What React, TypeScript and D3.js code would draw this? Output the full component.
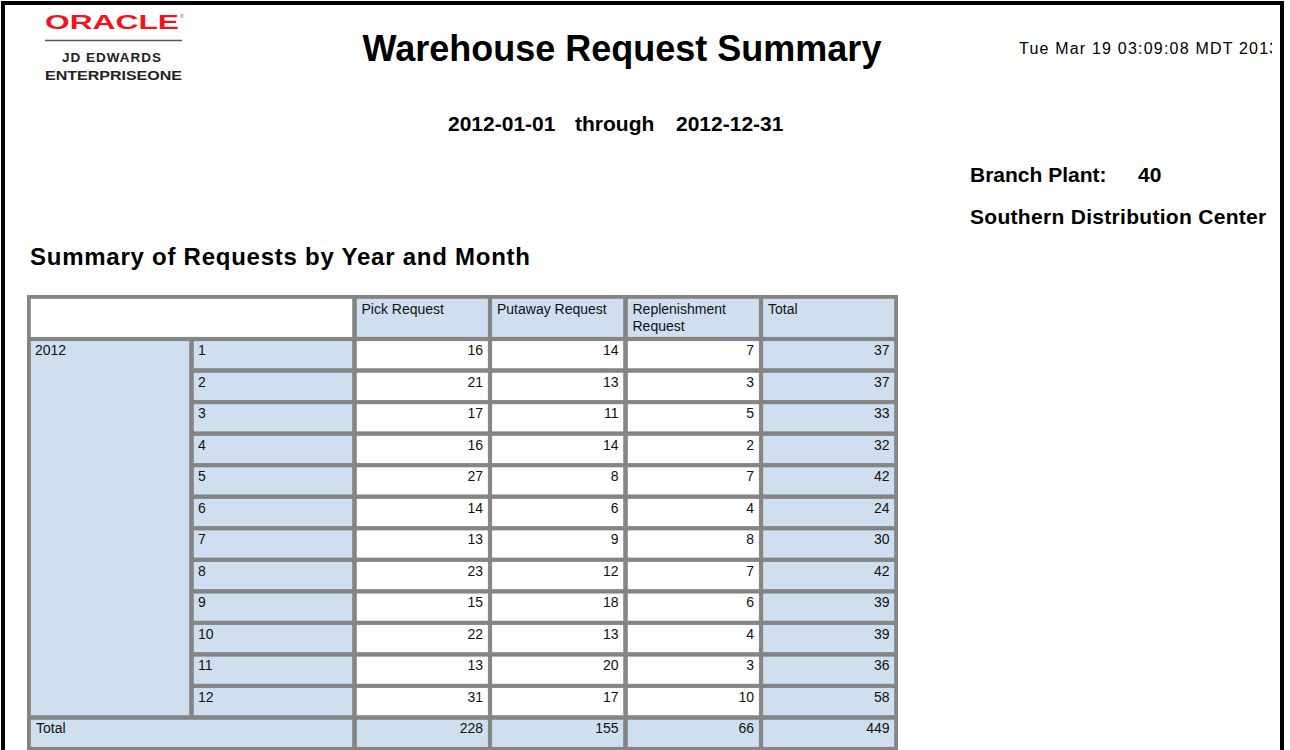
import React from "react";
import * as d3 from "d3";

const months = ["1", "2", "3", "4", "5", "6", "7", "8", "9", "10", "11", "12"];
const yearLabel = "2012";
const seriesNames = ["Pick Request", "Putaway Request", "Replenishment Request", "Total"];
const pickValues = [16, 21, 17, 16, 27, 14, 13, 23, 15, 22, 13, 31];
const putawayValues = [14, 13, 11, 14, 8, 6, 9, 12, 18, 13, 20, 17];
const replenishmentValues = [7, 3, 5, 2, 7, 4, 8, 7, 6, 4, 3, 10];
const totalValues = [37, 37, 33, 32, 42, 24, 30, 42, 39, 39, 36, 58];
const columnTotals = [228, 155, 66, 449];

const FONT = "'Liberation Sans', Arial, Helvetica, sans-serif";
const BLUE = "#cfdfef";
const GRID = "#858585";

export default function App() {
  const rowKeys = [...months, "Total"];
  const y = d3.scaleBand<string>().domain(rowKeys).range([339, 749]).paddingInner(0);
  const headerTop = 296.5;
  const xLabel = d3.scaleBand<string>().domain(["year", "month"]).range([28.5, 354.5]);
  const xData = d3.scaleBand<string>().domain(seriesNames).range([354.5, 896.5]);
  const seriesValues = [pickValues, putawayValues, replenishmentValues, totalValues];
  const inset = 1.8;

  const cells: { x: number; y: number; w: number; h: number; fill: string }[] = [];
  cells.push({ x: xLabel("year")!, y: headerTop, w: xLabel.bandwidth() * 2, h: y("1")! - headerTop, fill: "#fff" });
  seriesNames.forEach((s) =>
    cells.push({ x: xData(s)!, y: headerTop, w: xData.bandwidth(), h: y("1")! - headerTop, fill: BLUE })
  );
  cells.push({ x: xLabel("year")!, y: y("1")!, w: xLabel.bandwidth(), h: y.bandwidth() * months.length, fill: BLUE });
  months.forEach((m) => {
    cells.push({ x: xLabel("month")!, y: y(m)!, w: xLabel.bandwidth(), h: y.bandwidth(), fill: BLUE });
    seriesNames.forEach((s, i) =>
      cells.push({ x: xData(s)!, y: y(m)!, w: xData.bandwidth(), h: y.bandwidth(), fill: i === 3 ? BLUE : "#fff" })
    );
  });
  cells.push({ x: xLabel("year")!, y: y("Total")!, w: xLabel.bandwidth() * 2, h: y.bandwidth(), fill: BLUE });
  seriesNames.forEach((s) =>
    cells.push({ x: xData(s)!, y: y("Total")!, w: xData.bandwidth(), h: y.bandwidth(), fill: BLUE })
  );

  const tableLeft = xLabel.range()[0];
  const tableRight = xData.range()[1];
  const tableBottom = y.range()[1];

  return (
    <svg
      width={1290}
      height={750}
      style={{ position: "absolute", left: 0, top: 0, display: "block", background: "#fff" }}
      fontFamily={FONT}
    >
      <defs>
        <clipPath id="pageClip">
          <rect x={0} y={0} width={1272} height={750} />
        </clipPath>
      </defs>
      <rect x={0} y={0} width={1290} height={750} fill="#fff" />

      {/* Logo */}
      <text x={45} y={29} fontSize={21} fontWeight={700} fill="#f0141e" textLength={134} lengthAdjust="spacingAndGlyphs">
        ORACLE
      </text>
      <text x={180} y={18} fontSize={5} fill="#f0141e">®</text>
      <line x1={45} x2={182} y1={40.5} y2={40.5} stroke="#555" strokeWidth={1.5} />
      <text x={112} y={62} fontSize={13.5} fontWeight={700} fill="#222" textAnchor="middle" letterSpacing={1}>
        JD EDWARDS
      </text>
      <text x={45} y={79.5} fontSize={13.5} fontWeight={700} fill="#222" textLength={137} lengthAdjust="spacingAndGlyphs">
        ENTERPRISEONE
      </text>

      {/* Titles */}
      <text x={622} y={61} fontSize={36} fontWeight={700} textAnchor="middle" fill="#000">
        Warehouse Request Summary
      </text>
      <g fontSize={21} fontWeight={700} fill="#000">
        <text x={448} y={131}>2012-01-01</text>
        <text x={575} y={131}>through</text>
        <text x={676} y={131}>2012-12-31</text>
      </g>
      <g clipPath="url(#pageClip)">
        <text x={1019} y={54} fontSize={16} fill="#000" letterSpacing={1.2}>
          Tue Mar 19 03:09:08 MDT 2013
        </text>
      </g>
      <g fontSize={21} fontWeight={700} fill="#000">
        <text x={970} y={182}>Branch Plant:</text>
        <text x={1138} y={182}>40</text>
        <text x={970} y={224} letterSpacing={0.3}>Southern Distribution Center</text>
      </g>
      <text x={30} y={265} fontSize={24} fontWeight={700} fill="#000" letterSpacing={0.75}>
        Summary of Requests by Year and Month
      </text>

      {/* Table */}
      <rect
        x={tableLeft - 1.5}
        y={headerTop - 1.5}
        width={tableRight - tableLeft + 3}
        height={tableBottom - headerTop + 3}
        fill={GRID}
      />
      {cells.map((c, i) => (
        <rect
          key={i}
          x={c.x + inset}
          y={c.y + inset}
          width={c.w - inset * 2}
          height={c.h - inset * 2}
          fill={c.fill}
          stroke="#777"
          strokeWidth={0.6}
        />
      ))}
      <g fontSize={14} fill="#111">
        {seriesNames.map((s) => {
          const words = s === "Replenishment Request" ? ["Replenishment", "Request"] : [s];
          return words.map((w, j) => (
            <text key={s + j} x={xData(s)! + 7} y={headerTop + 17.5 + j * 17}>
              {w}
            </text>
          ));
        })}
        <text x={xLabel("year")! + 6.5} y={y("1")! + 16}>{yearLabel}</text>
        {months.map((m, r) => (
          <g key={m}>
            <text x={xLabel("month")! + 6.5} y={y(m)! + 16}>{m}</text>
            {seriesNames.map((s, i) => (
              <text key={s} x={xData(s)! + xData.bandwidth() - 7} y={y(m)! + 16} textAnchor="end">
                {seriesValues[i][r]}
              </text>
            ))}
          </g>
        ))}
        <text x={xLabel("year")! + 7.5} y={y("Total")! + 16}>Total</text>
        {seriesNames.map((s, i) => (
          <text key={s} x={xData(s)! + xData.bandwidth() - 7} y={y("Total")! + 16} textAnchor="end">
            {columnTotals[i]}
          </text>
        ))}
      </g>

      {/* Page frame */}
      <rect x={3} y={3} width={1279} height={800} fill="none" stroke="#000" strokeWidth={4} />
    </svg>
  );
}
